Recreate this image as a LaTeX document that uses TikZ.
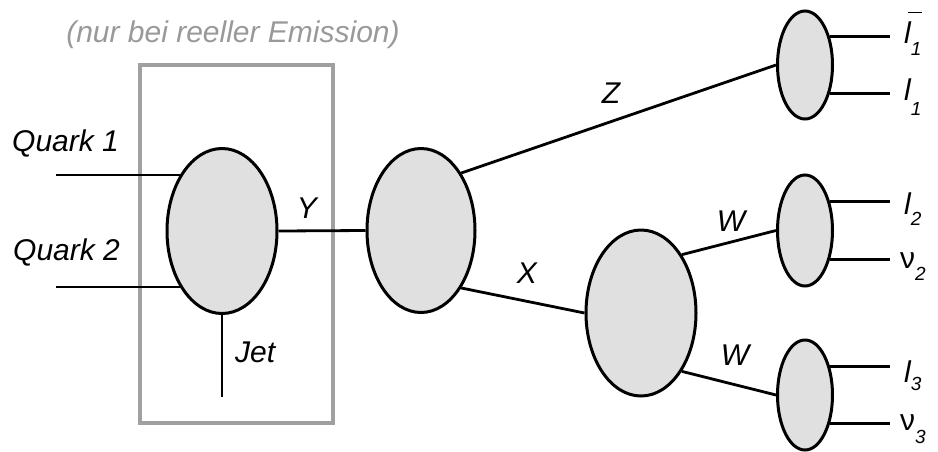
\documentclass[tikz,border=0pt]{standalone}
\usepackage{fontspec}
\setmainfont{Liberation Sans}
\usetikzlibrary{shapes.geometric}
\definecolor{blobfill}{HTML}{E0E0E0}
\definecolor{boxgray}{HTML}{A0A0A0}
\definecolor{titlegray}{HTML}{999999}
\newcommand{\lepsub}[3]{#1\raisebox{-#3pt}{\fontsize{19}{19}\selectfont\itshape #2}}
\newcommand{\lbarred}{\makebox[0pt][l]{\hspace{4pt}\rule[30pt]{14pt}{1.4pt}}l}
\begin{document}
\begin{tikzpicture}[x=1pt,y=-1pt,
  blob/.style={ellipse, draw=black, fill=blobfill, line width=3pt, inner sep=0pt},
  wire/.style={line width=2.8pt, line cap=butt},
  lbl/.style={font=\fontsize{30}{35}\selectfont\itshape, inner sep=0pt},
  upl/.style={font=\fontsize{30}{35}\selectfont, inner sep=0pt},
  emitbox/.style={draw=boxgray, line width=3.8pt}]
\useasboundingbox (0,0) rectangle (938,451);
% box for real emission
\draw[emitbox] (140,65) rectangle (333,423);
\node[lbl, text=titlegray, anchor=base] (title) at (233,42) {(nur bei reeller Emission)};
% blobs
\node[blob, minimum width=110pt, minimum height=165pt] (e1) at (222,231) {};
\node[blob, minimum width=108pt, minimum height=164pt] (e2) at (421,230.5) {};
\node[blob, minimum width=110pt, minimum height=166pt] (ex) at (641,313) {};
\node[blob, minimum width=55pt, minimum height=108pt] (etr) at (805,65) {};
\node[blob, minimum width=55pt, minimum height=111pt] (emr) at (805,230.5) {};
\node[blob, minimum width=55pt, minimum height=110pt] (ebr) at (805,395) {};
% free ends
\coordinate (qstart) at (56,0);
\coordinate (jetend) at (222,397);
\coordinate (rend) at (890,0);
% connectors
\draw[wire] (e1.127) -- (e1.127 -| qstart);
\draw[wire] (e1.233) -- (e1.233 -| qstart);
\draw[wire] (e1.south) -- (jetend);
\draw[wire] (e1.east) -- (e2.west);
\draw[wire] (e2.55) -- (etr.west);
\draw[wire] (e2.-55) -- (ex.west);
\draw[wire] (ex.55) -- (emr.west);
\draw[wire] (ex.-55) -- (ebr.west);
\foreach \n in {etr,emr,ebr}{
  \draw[wire] (\n.49) -- (\n.49 -| rend);
  \draw[wire] (\n.-49) -- (\n.-49 -| rend);
}
% labels
\node[lbl, anchor=base west] (q1) at (12,151) {Quark 1};
\node[lbl, anchor=base west] (q2) at (13,260) {Quark 2};
\node[lbl, anchor=base] (ly) at (307,218) {Y};
\node[lbl, anchor=base west] (ljet) at (235,362) {Jet};
\node[lbl, anchor=base] (lz) at (611,103) {Z};
\node[lbl, anchor=base] (lx) at (527,283) {X};
\node[lbl, anchor=base] (lw1) at (731,231) {W};
\node[lbl, anchor=base] (lw2) at (735,365) {W};
\node[lbl, anchor=base west] (l1b) at (904,43) {\lepsub{\lbarred}{1}{12}};
\node[lbl, anchor=base west] (l1) at (904,100) {\lepsub{l}{1}{15}};
\node[lbl, anchor=base west] (l2) at (904,214) {\lepsub{l}{2}{11}};
\node[upl, anchor=base west] (n2) at (900,268) {\lepsub{ν}{2}{12}};
\node[lbl, anchor=base west] (l3) at (904,382) {\lepsub{l}{3}{8}};
\node[upl, anchor=base west] (n3) at (900,430) {\lepsub{ν}{3}{13}};
\end{tikzpicture}
\end{document}
